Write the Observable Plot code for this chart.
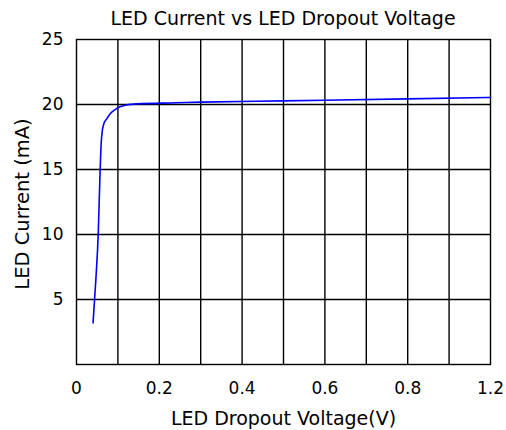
<!DOCTYPE html>
<html>
<head>
<meta charset="utf-8">
<script src="https://cdn.jsdelivr.net/npm/d3@7"></script>
<script src="https://cdn.jsdelivr.net/npm/@observablehq/plot@0.6"></script>
<style>
  body { margin: 0; background: #fff; }
  #wrap { position: relative; width: 506px; height: 430px; font-family: "DejaVu Sans", sans-serif; }
  #title { position: absolute; z-index: 1; left: 76px; width: 414px; top: 9px; text-align: center;
           font-size: 19px; line-height: 19px; color: #000; white-space: nowrap; }
  #wrap svg { display: block; }
</style>
</head>
<body>
<div id="wrap"><div id="title">LED Current vs LED Dropout Voltage</div></div>
<script>
// LED dropout voltage (V) and LED current (mA)
const voltage = [0.048, 0.056, 0.063, 0.0676, 0.0715, 0.0754, 0.079, 0.087, 0.0966, 0.111, 0.1256, 0.145, 0.174, 0.29, 0.36, 0.60, 0.96, 1.2];
const current = [3.2, 6.5, 10.05, 14.15, 17.0, 18.1, 18.5, 18.87, 19.25, 19.59, 19.82, 19.97, 20.05, 20.13, 20.18, 20.28, 20.43, 20.54];

// axes
const xTicks = [0, 0.24, 0.48, 0.72, 0.96, 1.2];
const xTickLabels = ["0", "0.2", "0.4", "0.6", "0.8", "1.2"];
const xGrid = [0.12, 0.24, 0.36, 0.48, 0.6, 0.72, 0.84, 0.96, 1.08];
const yTicks = [5, 10, 15, 20, 25];
const yGrid = [5, 10, 15, 20];
const xLabel = "LED Dropout Voltage(V)";
const yLabel = "LED Current (mA)";

const data = voltage.map((v, i) => ({v, c: current[i]}));

const chart = Plot.plot({
  width: 506,
  height: 430,
  marginTop: 39,
  marginRight: 16,
  marginBottom: 66,
  marginLeft: 76,
  style: {fontFamily: "DejaVu Sans, sans-serif", fontSize: "17px", color: "#000", background: "transparent", overflow: "visible"},
  x: {domain: [0, 1.2]},
  y: {domain: [0, 25]},
  marks: [
    Plot.gridX(xGrid, {stroke: "#000", strokeOpacity: 1, strokeWidth: 1.4}),
    Plot.gridY(yGrid, {stroke: "#000", strokeOpacity: 1, strokeWidth: 1.4}),
    Plot.frame({stroke: "#000", strokeWidth: 1.4}),
    Plot.line(data, {x: "v", y: "c", stroke: "#0000ff", strokeWidth: 1.6, curve: "monotone-x"}),
    Plot.axisX(xTicks, {tickSize: 0, tickPadding: 17, tickFormat: (d, i) => xTickLabels[i], label: null, fontSize: 17}),
    Plot.axisY(yTicks, {tickSize: 0, tickPadding: 13, label: null, fontSize: 17}),
    Plot.text([xLabel], {frameAnchor: "bottom", lineAnchor: "middle", textAnchor: "middle", dy: 54, fontSize: 19, fill: "#000"}),
    Plot.text([yLabel], {frameAnchor: "left", lineAnchor: "middle", textAnchor: "middle", dx: -53.5, dy: 2, rotate: -90, fontSize: 19.5, fill: "#000"})
  ]
});
document.getElementById("wrap").appendChild(chart);
</script>
</body>
</html>
